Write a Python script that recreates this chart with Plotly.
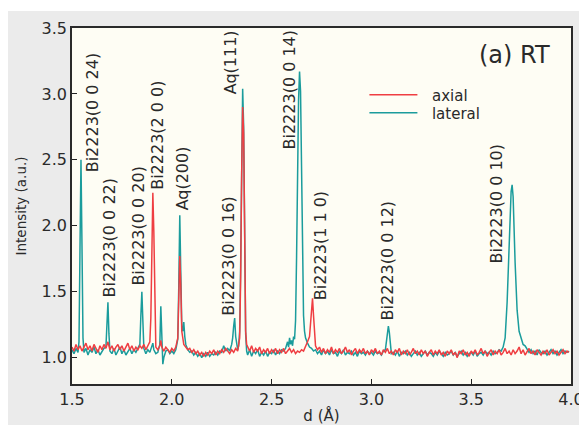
import plotly.graph_objects as go

# ---- data ----
lateral = [
    (1.500, 1.06), (1.510, 1.03), (1.520, 1.07), (1.530, 1.04), (1.535, 1.12), (1.540, 1.75),
    (1.545, 2.50), (1.550, 1.85), (1.555, 1.15), (1.560, 1.04), (1.570, 1.07), (1.580, 1.02),
    (1.590, 1.06), (1.600, 1.04), (1.610, 1.08), (1.620, 1.03), (1.630, 1.06), (1.640, 1.02),
    (1.650, 1.05), (1.660, 1.07), (1.670, 1.08), (1.675, 1.22), (1.680, 1.42), (1.685, 1.18),
    (1.690, 1.05), (1.700, 1.03), (1.710, 1.07), (1.720, 1.02), (1.730, 1.05), (1.740, 1.08),
    (1.750, 1.03), (1.760, 1.06), (1.770, 1.02), (1.780, 1.05), (1.790, 1.07), (1.800, 1.03),
    (1.810, 1.06), (1.820, 1.04), (1.830, 1.07), (1.840, 1.10), (1.845, 1.32), (1.850, 1.50),
    (1.855, 1.28), (1.860, 1.07), (1.870, 1.03), (1.880, 1.06), (1.890, 1.04), (1.900, 1.09),
    (1.905, 1.11), (1.910, 1.06), (1.920, 1.03), (1.930, 1.04), (1.940, 1.10), (1.945, 1.39),
    (1.950, 1.14), (1.955, 0.95), (1.960, 1.00), (1.970, 1.05), (1.980, 1.06), (1.990, 1.03),
    (2.000, 1.05), (2.010, 1.03), (2.020, 1.06), (2.030, 1.14), (2.035, 1.55), (2.040, 2.08),
    (2.045, 1.65), (2.050, 1.24), (2.055, 1.20), (2.060, 1.27), (2.065, 1.16), (2.070, 1.10),
    (2.080, 1.06), (2.090, 1.04), (2.100, 1.05), (2.110, 1.02), (2.120, 1.04), (2.130, 1.01),
    (2.140, 1.03), (2.150, 1.00), (2.160, 1.03), (2.170, 1.01), (2.180, 1.04), (2.190, 1.01),
    (2.200, 1.03), (2.210, 1.02), (2.220, 1.04), (2.230, 1.02), (2.240, 1.05), (2.250, 1.04),
    (2.260, 1.09), (2.270, 1.05), (2.280, 1.07), (2.290, 1.05), (2.300, 1.10), (2.305, 1.15),
    (2.310, 1.24), (2.315, 1.30), (2.320, 1.16), (2.325, 1.08), (2.330, 1.06), (2.335, 1.09),
    (2.340, 1.20), (2.345, 1.70), (2.350, 2.65), (2.355, 3.04), (2.360, 2.75), (2.365, 1.75),
    (2.370, 1.18), (2.375, 1.05), (2.380, 1.02), (2.390, 1.06), (2.400, 1.01), (2.410, 1.05),
    (2.420, 1.03), (2.430, 1.06), (2.440, 1.01), (2.450, 1.04), (2.460, 1.02), (2.470, 1.05),
    (2.480, 1.01), (2.490, 1.04), (2.500, 1.03), (2.510, 1.06), (2.520, 1.02), (2.530, 1.05),
    (2.540, 1.03), (2.550, 1.06), (2.560, 1.05), (2.570, 1.07), (2.580, 1.12), (2.585, 1.08),
    (2.590, 1.15), (2.595, 1.10), (2.600, 1.13), (2.605, 1.09), (2.610, 1.16), (2.615, 1.14),
    (2.620, 1.28), (2.625, 1.75), (2.630, 2.45), (2.635, 2.95), (2.640, 3.17), (2.645, 3.02),
    (2.650, 2.45), (2.655, 1.75), (2.660, 1.32), (2.665, 1.20), (2.670, 1.15), (2.680, 1.11),
    (2.690, 1.08), (2.700, 1.07), (2.710, 1.05), (2.720, 1.06), (2.730, 1.03), (2.740, 1.05),
    (2.750, 1.02), (2.760, 1.06), (2.770, 1.03), (2.780, 1.05), (2.790, 1.02), (2.800, 1.06),
    (2.810, 1.03), (2.820, 1.04), (2.830, 1.01), (2.840, 1.05), (2.850, 1.03), (2.860, 1.06),
    (2.870, 1.02), (2.880, 1.04), (2.890, 1.03), (2.900, 1.05), (2.910, 1.02), (2.920, 1.04),
    (2.930, 1.01), (2.940, 1.05), (2.950, 1.03), (2.960, 1.04), (2.970, 1.02), (2.980, 1.05),
    (2.990, 1.03), (3.000, 1.04), (3.010, 1.02), (3.020, 1.05), (3.030, 1.03), (3.040, 1.04),
    (3.050, 1.02), (3.060, 1.05), (3.070, 1.06), (3.075, 1.12), (3.080, 1.21), (3.085, 1.24),
    (3.090, 1.19), (3.095, 1.09), (3.100, 1.03), (3.110, 1.04), (3.120, 1.02), (3.130, 1.05),
    (3.140, 1.01), (3.150, 1.04), (3.160, 1.03), (3.170, 1.05), (3.180, 1.02), (3.190, 1.04),
    (3.200, 1.01), (3.210, 1.03), (3.220, 1.05), (3.230, 1.02), (3.240, 1.04), (3.250, 1.01),
    (3.260, 1.03), (3.270, 1.05), (3.280, 1.02), (3.290, 1.04), (3.300, 1.03), (3.310, 1.01),
    (3.320, 1.04), (3.330, 1.02), (3.340, 1.05), (3.350, 1.03), (3.360, 1.01), (3.370, 1.04),
    (3.380, 1.02), (3.390, 1.03), (3.400, 1.05), (3.410, 1.02), (3.420, 1.04), (3.430, 1.01),
    (3.440, 1.03), (3.450, 1.05), (3.460, 1.02), (3.470, 1.04), (3.480, 1.01), (3.490, 1.03),
    (3.500, 1.04), (3.510, 1.02), (3.520, 1.05), (3.530, 1.01), (3.540, 1.03), (3.550, 1.04),
    (3.560, 1.02), (3.570, 1.05), (3.580, 1.03), (3.590, 1.04), (3.600, 1.02), (3.610, 1.05),
    (3.620, 1.03), (3.630, 1.04), (3.640, 1.06), (3.650, 1.05), (3.660, 1.08), (3.670, 1.15),
    (3.680, 1.42), (3.690, 1.92), (3.700, 2.26), (3.705, 2.31), (3.710, 2.22), (3.720, 1.72),
    (3.730, 1.36), (3.740, 1.20), (3.750, 1.14), (3.760, 1.10), (3.770, 1.09), (3.780, 1.06),
    (3.790, 1.04), (3.800, 1.06), (3.810, 1.03), (3.820, 1.05), (3.830, 1.02), (3.840, 1.06),
    (3.850, 1.04), (3.860, 1.03), (3.870, 1.05), (3.880, 1.02), (3.890, 1.04), (3.900, 1.06),
    (3.910, 1.03), (3.920, 1.05), (3.930, 1.02), (3.940, 1.04), (3.950, 1.06), (3.960, 1.03),
    (3.970, 1.05), (3.980, 1.04), (3.990, 1.05),
]

axial = [
    (1.500, 1.08), (1.510, 1.05), (1.520, 1.10), (1.530, 1.06), (1.540, 1.09), (1.550, 1.05),
    (1.560, 1.08), (1.570, 1.11), (1.580, 1.06), (1.590, 1.09), (1.600, 1.05), (1.610, 1.10),
    (1.620, 1.07), (1.630, 1.04), (1.640, 1.09), (1.650, 1.06), (1.660, 1.10), (1.670, 1.07),
    (1.680, 1.12), (1.690, 1.06), (1.700, 1.09), (1.710, 1.05), (1.720, 1.08), (1.730, 1.10),
    (1.740, 1.06), (1.750, 1.09), (1.760, 1.05), (1.770, 1.08), (1.780, 1.11), (1.790, 1.06),
    (1.800, 1.09), (1.810, 1.05), (1.820, 1.08), (1.830, 1.06), (1.840, 1.09), (1.850, 1.07),
    (1.860, 1.10), (1.870, 1.06), (1.880, 1.09), (1.890, 1.12), (1.895, 1.30), (1.900, 1.90),
    (1.905, 2.25), (1.910, 1.95), (1.915, 1.30), (1.920, 1.08), (1.930, 1.06), (1.940, 1.09),
    (1.945, 1.13), (1.950, 1.08), (1.960, 1.05), (1.970, 1.08), (1.980, 1.06), (1.990, 1.04),
    (2.000, 1.07), (2.010, 1.05), (2.020, 1.08), (2.030, 1.15), (2.035, 1.45), (2.040, 1.77),
    (2.045, 1.55), (2.050, 1.20), (2.060, 1.10), (2.070, 1.08), (2.080, 1.06), (2.090, 1.07),
    (2.100, 1.04), (2.110, 1.06), (2.120, 1.03), (2.130, 1.05), (2.140, 1.02), (2.150, 1.04),
    (2.160, 1.01), (2.170, 1.04), (2.180, 1.02), (2.190, 1.05), (2.200, 1.03), (2.210, 1.06),
    (2.220, 1.02), (2.230, 1.05), (2.240, 1.03), (2.250, 1.06), (2.260, 1.04), (2.270, 1.07),
    (2.280, 1.05), (2.290, 1.03), (2.300, 1.06), (2.310, 1.04), (2.320, 1.07), (2.330, 1.05),
    (2.340, 1.15), (2.345, 1.60), (2.350, 2.40), (2.355, 2.90), (2.360, 2.70), (2.365, 1.80),
    (2.370, 1.20), (2.375, 1.10), (2.380, 1.08), (2.390, 1.05), (2.400, 1.09), (2.410, 1.04),
    (2.420, 1.07), (2.430, 1.05), (2.440, 1.08), (2.450, 1.03), (2.460, 1.06), (2.470, 1.04),
    (2.480, 1.07), (2.490, 1.03), (2.500, 1.06), (2.510, 1.04), (2.520, 1.07), (2.530, 1.03),
    (2.540, 1.06), (2.550, 1.04), (2.560, 1.07), (2.570, 1.03), (2.580, 1.05), (2.590, 1.07),
    (2.600, 1.04), (2.610, 1.06), (2.620, 1.03), (2.630, 1.05), (2.640, 1.04), (2.650, 1.06),
    (2.660, 1.05), (2.670, 1.08), (2.680, 1.12), (2.690, 1.16), (2.695, 1.28), (2.700, 1.40),
    (2.705, 1.45), (2.710, 1.32), (2.715, 1.18), (2.720, 1.09), (2.730, 1.06), (2.740, 1.08),
    (2.750, 1.04), (2.760, 1.07), (2.770, 1.03), (2.780, 1.06), (2.790, 1.04), (2.800, 1.08),
    (2.810, 1.03), (2.820, 1.06), (2.830, 1.04), (2.840, 1.07), (2.850, 1.03), (2.860, 1.05),
    (2.870, 1.08), (2.880, 1.04), (2.890, 1.06), (2.900, 1.02), (2.910, 1.05), (2.920, 1.07),
    (2.930, 1.03), (2.940, 1.06), (2.950, 1.04), (2.960, 1.07), (2.970, 1.03), (2.980, 1.05),
    (2.990, 1.02), (3.000, 1.06), (3.010, 1.04), (3.020, 1.07), (3.030, 1.03), (3.040, 1.05),
    (3.050, 1.02), (3.060, 1.06), (3.070, 1.04), (3.080, 1.07), (3.090, 1.03), (3.100, 1.05),
    (3.110, 1.02), (3.120, 1.06), (3.130, 1.04), (3.140, 1.07), (3.150, 1.02), (3.160, 1.05),
    (3.170, 1.03), (3.180, 1.06), (3.190, 1.02), (3.200, 1.04), (3.210, 1.07), (3.220, 1.03),
    (3.230, 1.05), (3.240, 1.02), (3.250, 1.06), (3.260, 1.03), (3.270, 1.05), (3.280, 1.01),
    (3.290, 1.04), (3.300, 1.06), (3.310, 1.02), (3.320, 1.05), (3.330, 1.03), (3.340, 1.06),
    (3.350, 1.02), (3.360, 1.04), (3.370, 1.01), (3.380, 1.05), (3.390, 1.03), (3.400, 1.06),
    (3.410, 1.02), (3.420, 1.04), (3.430, 1.00), (3.440, 1.05), (3.450, 1.03), (3.460, 1.06),
    (3.470, 1.02), (3.480, 1.04), (3.490, 1.01), (3.500, 1.05), (3.510, 1.03), (3.520, 1.06),
    (3.530, 1.02), (3.540, 1.04), (3.550, 1.07), (3.560, 1.03), (3.570, 1.05), (3.580, 1.01),
    (3.590, 1.04), (3.600, 1.06), (3.610, 1.02), (3.620, 1.05), (3.630, 1.03), (3.640, 1.06),
    (3.650, 1.02), (3.660, 1.04), (3.670, 1.07), (3.680, 1.03), (3.690, 1.05), (3.700, 1.02),
    (3.710, 1.06), (3.720, 1.03), (3.730, 1.05), (3.740, 1.08), (3.750, 1.03), (3.760, 1.06),
    (3.770, 1.02), (3.780, 1.05), (3.790, 1.07), (3.800, 1.03), (3.810, 1.05), (3.820, 1.02),
    (3.830, 1.06), (3.840, 1.04), (3.850, 1.02), (3.860, 1.05), (3.870, 1.03), (3.880, 1.06),
    (3.890, 1.02), (3.900, 1.04), (3.910, 1.06), (3.920, 1.03), (3.930, 1.05), (3.940, 1.02),
    (3.950, 1.04), (3.960, 1.06), (3.970, 1.03), (3.980, 1.05), (3.990, 1.04),
]

peak_labels = ["Bi2223(0 0 24)", "Bi2223(0 0 22)", "Bi2223(0 0 20)", "Bi2223(2 0 0)",
               "Aq(200)", "Bi2223(0 0 16)", "Aq(111)", "Bi2223(0 0 14)",
               "Bi2223(1 1 0)", "Bi2223(0 0 12)", "Bi2223(0 0 10)"]
peak_label_d = [1.600, 1.690, 1.835, 1.925, 2.055, 2.280, 2.295, 2.590, 2.745, 3.080, 3.625]
peak_label_i = [2.39, 1.44, 1.53, 2.26, 2.10, 1.30, 2.98, 2.56, 1.42, 1.27, 1.70]

x_ticks = [1.5, 2.0, 2.5, 3.0, 3.5, 4.0]
y_ticks = [1.0, 1.5, 2.0, 2.5, 3.0, 3.5]

TEAL = "#1b9c9c"
RED = "#ef3e42"
FONT = "DejaVu Sans"
TXT = "#2a2a2a"
NB = "\u00a0\u00a0"

d_lat = [p[0] for p in lateral]
i_lat = [p[1] for p in lateral]
d_ax = [p[0] for p in axial]
i_ax = [p[1] for p in axial]

fig = go.Figure()
fig.add_trace(go.Scatter(x=d_lat, y=i_lat, mode="lines", name=NB + "lateral",
                         line=dict(color=TEAL, width=1.5), legend="legend2", showlegend=True))
fig.add_trace(go.Scatter(x=d_ax, y=i_ax, mode="lines", name=NB + "axial",
                         line=dict(color=RED, width=1.5), legend="legend", showlegend=True))

for lab, xd, yi in zip(peak_labels, peak_label_d, peak_label_i):
    fig.add_annotation(x=xd, y=yi, xref="x", yref="y", text=lab, textangle=-90,
                       showarrow=False, xanchor="center", yanchor="bottom",
                       font=dict(family=FONT, size=16, color=TXT))

fig.add_annotation(x=0.962, y=0.924, xref="paper", yref="paper", text="(a) RT",
                   showarrow=False, xanchor="right", yanchor="middle",
                   font=dict(family=FONT, size=24, color=TXT))

# page background: white strip at the very top, gray elsewhere
fig.add_shape(type="rect", xref="paper", yref="paper", x0=-0.3, x1=1.2,
              y0=1.0478, y1=1.2, fillcolor="white", line_width=0, layer="below")

legend_common = dict(bgcolor="rgba(0,0,0,0)", font=dict(family=FONT, size=15, color=TXT),
                     itemwidth=48, xanchor="left", yanchor="middle", borderwidth=0,
                     visible=True)

# the page body adds an 8 px offset, so the figure is 8 px smaller on each axis
fig.update_layout(
    width=579, height=417,
    margin=dict(l=64, r=16, t=20, b=41, autoexpand=False),
    paper_bgcolor="#ebebeb",
    plot_bgcolor="#fefdf4",
    showlegend=True,
    legend=dict(x=0.586, y=0.812, **legend_common),
    legend2=dict(x=0.586, y=0.761, **legend_common),
    xaxis=dict(range=[1.5, 4.0], tickvals=x_ticks, ticktext=[f"{v:.1f}" for v in x_ticks],
               ticks="inside", ticklen=5, tickcolor="#222", tickwidth=1.2,
               showline=True, linecolor="#2a2a2a", linewidth=1.6, mirror=True,
               showgrid=False, zeroline=False, automargin=False,
               tickfont=dict(family=FONT, size=16, color=TXT),
               title=dict(text="d (Å)", font=dict(family=FONT, size=15, color=TXT), standoff=2)),
    yaxis=dict(range=[0.8, 3.5], tickvals=y_ticks, ticktext=[f"{v:.1f}" for v in y_ticks],
               ticks="inside", ticklen=5, tickcolor="#222", tickwidth=1.2,
               showline=True, linecolor="#2a2a2a", linewidth=1.6, mirror=True,
               showgrid=False, zeroline=False, automargin=False,
               tickfont=dict(family=FONT, size=16, color=TXT),
               title=dict(text="Intensity (a.u.)", font=dict(family=FONT, size=13.5, color=TXT),
                          standoff=12)),
)

fig.write_html("out.html")
